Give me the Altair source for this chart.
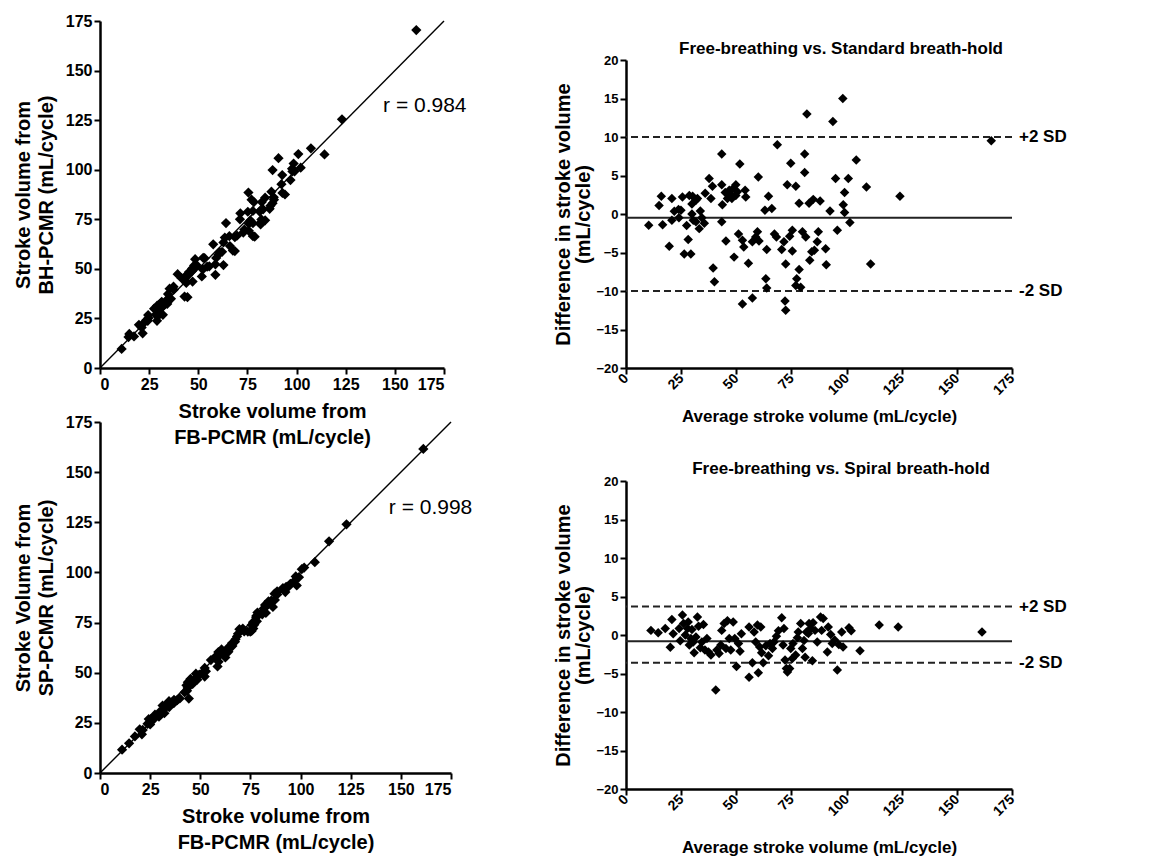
import altair as alt
import pandas as pd

FONT = "Liberation Sans"

# ---------------- Panel A: FB vs BH scatter ----------------
fb_a = [11.0, 14.5, 14.9, 17.3, 21.7, 19.8, 21.2, 21.7, 23.5, 24.3, 24.5, 24.7, 29.0, 28.3, 29.9,
        27.5, 32.0, 29.3, 29.9, 29.1, 30.9, 30.8, 31.4, 32.2, 34.2, 33.5, 34.7, 36.1, 34.6, 35.4,
        37.5, 37.4, 43.0, 44.5, 39.5, 41.5, 43.1, 43.9, 47.1, 43.6, 45.0, 45.3, 46.3, 46.9, 47.9,
        48.6, 51.8, 52.3, 48.4, 54.5, 55.6, 58.7, 52.5, 53.2, 58.7, 62.8, 59.1, 60.3, 60.8, 57.6,
        62.1, 62.8, 66.1, 67.6, 68.6, 63.5, 65.8, 68.6, 69.7, 64.1, 72.9, 73.4, 77.8, 78.7, 75.7,
        71.2, 75.7, 71.4, 76.5, 77.8, 75.2, 81.6, 81.7, 82.1, 77.8, 84.0, 81.2, 77.1, 78.3, 83.0,
        75.5, 82.3, 86.3, 86.7, 84.0, 87.8, 88.5, 88.4, 87.2, 92.8, 94.1, 92.3, 87.8, 92.7, 96.9,
        90.8, 97.9, 97.7, 99.0, 98.5, 102.1, 100.9, 107.3, 114.2, 123.1, 160.9, 47.0, 49.1]
bh_a = [9.6, 15.6, 17.2, 15.9, 17.5, 21.8, 20.4, 22.1, 24.1, 23.8, 26.7, 25.2, 23.8, 26.8, 26.6,
        29.9, 26.8, 30.6, 29.9, 31.4, 30.1, 32.6, 33.4, 31.2, 32.3, 33.9, 34.2, 34.9, 37.3, 40.0,
        39.5, 41.0, 36.0, 35.7, 47.3, 45.3, 44.3, 42.9, 43.6, 46.4, 47.0, 48.4, 48.8, 50.2, 51.7,
        51.0, 46.2, 49.7, 54.9, 51.1, 51.3, 47.0, 55.6, 55.4, 52.3, 51.9, 55.5, 57.3, 58.5, 62.4,
        58.6, 63.3, 61.5, 59.2, 59.0, 65.8, 66.5, 66.0, 66.7, 73.1, 68.3, 69.8, 66.5, 66.2, 69.2,
        75.0, 72.8, 78.0, 74.4, 73.0, 78.8, 73.2, 72.4, 74.9, 79.2, 74.5, 78.9, 84.9, 83.7, 80.0,
        88.5, 83.7, 80.3, 81.8, 85.9, 83.1, 84.9, 86.1, 88.9, 88.3, 87.5, 92.7, 99.8, 97.3, 94.8,
        105.8, 99.1, 100.5, 99.2, 103.1, 101.0, 107.9, 110.8, 107.7, 125.4, 170.4, 49.0, 52.0]

# ---------------- Panel B: Bland-Altman FB vs standard BH ----------------
avg_b = [10.3, 15.0, 16.0, 16.6, 19.6, 20.8, 20.8, 21.9, 23.8, 24.0, 25.6, 24.9, 26.4, 27.5, 28.2,
         28.7, 29.4, 29.9, 29.9, 30.2, 30.5, 31.7, 32.4, 31.7, 33.2, 33.7, 34.4, 35.5, 35.9, 37.7,
         38.5, 39.2, 39.5, 40.1, 43.4, 43.4, 43.7, 43.4, 45.3, 45.0, 46.0, 46.8, 47.5, 48.5, 49.8,
         49.8, 49.0, 51.0, 51.6, 52.8, 53.4, 52.8, 54.0, 54.3, 55.5, 57.3, 57.3, 58.8, 59.6, 60.0,
         60.3, 63.0, 63.8, 63.4, 63.8, 64.6, 66.1, 67.3, 68.2, 68.6, 70.6, 71.6, 72.1, 72.4, 72.4,
         73.1, 74.2, 74.7, 75.4, 75.4, 77.0, 77.4, 77.0, 78.5, 78.5, 79.2, 80.0, 81.0, 81.0, 81.5,
         82.0, 83.0, 83.3, 84.2, 84.9, 85.4, 86.7, 87.2, 88.0, 90.5, 90.8, 92.5, 93.8, 95.0, 95.8,
         98.3, 98.5, 99.1, 99.1, 100.8, 101.5, 104.4, 109.0, 110.9, 124.2, 165.6, 48.0, 50.5]
diff_b = [-1.45, 1.1, 2.3, -1.4, -4.2, 2.0, -0.8, 0.35, 0.6, -0.5, 2.2, 0.5, -5.2, -1.5, -3.3,
          2.4, -5.2, 1.3, 0.0, 2.3, -0.8, 1.8, 2.0, -1.0, -1.9, 0.4, -0.5, -1.2, 2.7, 4.6,
          2.0, 3.6, -7.0, -8.8, 7.8, 3.8, 1.2, -1.0, -3.5, 2.8, 2.0, 3.1, 2.5, 3.3, 3.8,
          2.4, -5.6, -2.6, 6.5, -3.4, -4.3, -11.7, 3.1, 2.2, -6.4, -10.9, -3.6, -3.0, -2.3, 4.8,
          -3.5, 0.5, -4.6, -8.4, -9.6, 2.3, 0.7, -2.6, -3.0, 9.0, -4.6, -3.6, -11.3, -12.5, -6.5,
          3.8, -2.9, 6.6, -2.1, -4.8, 3.6, -8.4, -9.3, -7.2, 1.4, -9.5, -2.3, 7.8, 5.4, -3.0,
          13.0, 1.4, -6.0, -4.9, 1.9, -4.7, -3.6, -2.3, 1.7, -4.5, -6.6, 0.4, 12.0, 4.6, -2.1,
          15.0, 1.2, 2.8, 0.2, 4.6, -1.1, 7.0, 3.5, -6.5, 2.3, 9.5, 2.0, 2.9]
limits_b = [10.0, -10.0]
mean_b = [-0.5]

# ---------------- Panel C: FB vs SP scatter ----------------
fb_c = [11.0, 14.5, 17.4, 20.9, 19.8, 21.3, 23.7, 25.0, 24.3, 25.4, 26.9, 27.5, 27.4, 29.4, 29.6,
        29.6, 31.0, 32.1, 31.8, 31.2, 32.3, 34.5, 34.9, 34.4, 36.8, 36.9, 38.5, 39.8, 44.3, 42.2,
        43.4, 43.7, 43.1, 43.8, 46.2, 45.1, 47.0, 48.5, 47.8, 49.5, 52.2, 51.6, 52.8, 52.2, 58.6,
        55.3, 59.1, 57.9, 59.3, 59.0, 62.5, 61.4, 60.6, 62.7, 64.0, 64.1, 66.0, 65.9, 67.3, 67.6,
        68.3, 68.8, 69.5, 71.9, 71.2, 73.7, 74.9, 75.6, 76.4, 75.6, 76.9, 76.3, 78.2, 77.9, 77.9,
        78.5, 80.9, 81.1, 82.7, 81.6, 82.6, 82.3, 83.3, 86.2, 84.0, 85.4, 87.2, 87.0, 88.3, 88.4,
        92.4, 91.2, 92.8, 94.1, 94.9, 98.1, 97.1, 97.6, 99.2, 100.6, 101.8, 107.1, 114.2, 122.9, 161.2]
sp_c = [11.6, 14.8, 18.2, 19.3, 21.8, 21.5, 24.5, 24.2, 26.9, 26.9, 26.9, 28.3, 29.1, 28.1, 29.2,
        30.3, 30.1, 29.8, 31.6, 33.6, 33.5, 32.9, 34.0, 35.8, 34.8, 36.5, 36.3, 37.2, 37.1, 40.2,
        41.0, 42.4, 43.7, 45.3, 44.4, 46.9, 46.6, 46.5, 49.5, 49.1, 48.1, 50.5, 50.7, 52.4, 53.1,
        56.3, 55.5, 58.3, 58.4, 60.3, 57.6, 59.8, 61.6, 60.4, 60.4, 62.7, 63.3, 64.8, 65.5, 66.7,
        68.1, 69.4, 71.7, 70.6, 72.0, 70.5, 70.5, 70.8, 72.0, 73.8, 73.9, 75.2, 75.6, 77.5, 78.3,
        80.0, 79.1, 80.4, 79.8, 82.0, 82.8, 83.8, 84.1, 82.8, 85.6, 86.0, 86.3, 89.4, 90.5, 89.0,
        90.2, 92.2, 92.8, 93.0, 94.3, 93.5, 95.9, 98.0, 97.6, 101.6, 102.4, 105.1, 115.5, 124.0, 161.6]

# ---------------- Panel D: Bland-Altman FB vs spiral BH ----------------
avg_d = [11.3, 14.6, 17.8, 20.1, 20.8, 21.4, 24.1, 24.6, 25.6, 26.1, 26.9, 27.9, 28.2, 28.7, 29.4,
         29.9, 30.5, 30.9, 31.7, 32.4, 32.9, 33.7, 34.4, 35.1, 35.8, 36.7, 37.4, 38.5, 40.7, 41.2,
         42.2, 43.0, 43.4, 44.5, 45.3, 46.0, 46.8, 47.5, 48.6, 49.3, 50.1, 51.0, 51.7, 52.3, 55.8,
         55.8, 57.3, 58.1, 58.8, 59.6, 60.0, 60.6, 61.1, 61.5, 62.2, 63.4, 64.6, 65.3, 66.4, 67.1,
         68.2, 69.1, 70.6, 71.2, 71.6, 72.1, 72.7, 73.2, 74.2, 74.7, 75.4, 75.7, 76.9, 77.7, 78.1,
         79.2, 80.0, 80.7, 81.2, 81.8, 82.7, 83.0, 83.7, 84.5, 84.8, 85.7, 86.7, 88.2, 89.4, 88.7,
         91.3, 91.7, 92.8, 93.5, 94.6, 95.8, 96.5, 97.8, 98.4, 101.1, 102.1, 106.1, 114.8, 123.4, 161.4]
diff_d = [0.6, 0.3, 0.85, -1.6, 2.0, 0.15, 0.85, -0.75, 2.6, 1.5, 0.0, 0.85, 1.7, -1.3, -0.45,
          0.7, -0.9, -2.3, -0.25, 2.35, 1.15, -1.65, -0.9, 1.35, -1.95, -0.45, -2.2, -2.6, -7.15, -1.95,
          -2.4, -1.3, 0.6, 1.5, -1.75, 1.85, -0.45, -1.95, 1.7, -0.45, -4.1, -1.1, -2.1, 0.15, -5.5,
          1.05, -3.6, 0.4, -0.9, 1.3, -4.9, -1.55, 1.05, -2.3, -3.6, -1.4, -2.7, -1.1, -1.75, -0.9,
          -0.15, 0.55, 2.25, -1.3, 0.85, -3.25, -4.35, -4.8, -4.35, -1.75, -3.05, -1.1, -2.6, -0.35, 0.4,
          1.5, -1.75, -0.7, -2.9, 0.4, 0.2, 1.5, 0.85, -3.35, 1.6, 0.6, -0.9, 2.35, 2.15, 0.6,
          -2.2, 1.05, 0.05, -1.1, -0.65, -4.55, -1.25, 0.4, -1.55, 0.95, 0.55, -2.05, 1.3, 1.05, 0.4]
limits_d = [3.7, -3.6]
mean_d = [-0.8]

ticks_sv = [0, 25, 50, 75, 100, 125, 150, 175]
ticks_diff = [-20, -15, -10, -5, 0, 5, 10, 15, 20]
identity = [0, 175]
sd_labels = ["+2 SD", "-2 SD"]
r_pos = [144, 132]


def scatter_panel(xv, yv, w, h, xtitle, ytitle, rlabel):
    xs = alt.Scale(domain=[0, 175], nice=False, zero=False)
    ys = alt.Scale(domain=[0, 175], nice=False, zero=False)
    X = alt.X("x:Q", scale=xs, axis=alt.Axis(values=ticks_sv, title=xtitle, labelFontSize=16,
                                             labelFontWeight=700, titleFontSize=20,
                                             titlePadding=9, titleLineHeight=26))
    Y = alt.Y("y:Q", scale=ys, axis=alt.Axis(values=ticks_sv, title=ytitle, labelFontSize=16,
                                             labelFontWeight=700, titleFontSize=20,
                                             titlePadding=9, titleLineHeight=23))
    ident = alt.Chart(pd.DataFrame({"x": identity, "y": identity})).mark_line(
        color="black", strokeWidth=1.4).encode(x=X, y=Y)
    dots = alt.Chart(pd.DataFrame({"x": xv, "y": yv})).mark_point(
        shape="diamond", filled=True, color="black", opacity=1, size=105).encode(x=X, y=Y)
    rt = alt.Chart(pd.DataFrame({"x": [r_pos[0]], "y": [r_pos[1]], "t": [rlabel]})).mark_text(
        align="left", baseline="middle", font=FONT, fontSize=21, color="black").encode(
        x=X, y=Y, text="t:N")
    return alt.layer(ident, dots, rt).properties(width=w, height=h)


def ba_panel(av, dv, h, top, title, limits, mean, title_y, xpad):
    xs = alt.Scale(domain=[0, 175], nice=False, zero=False)
    ys = alt.Scale(domain=[-20, 20], range=[h, top], nice=False, zero=False)
    X = alt.X("x:Q", scale=xs, axis=alt.Axis(values=ticks_sv, labelAngle=315, labelAlign="right",
                                             labelBaseline="middle", labelFontSize=14,
                                             labelFontWeight=700,
                                             title="Average stroke volume (mL/cycle)",
                                             titleFontSize=17, titlePadding=xpad))
    Y = alt.Y("y:Q", scale=ys, axis=alt.Axis(values=ticks_diff, labelFontSize=13,
                                             labelFontWeight=700,
                                             title=["Difference in stroke volume", "(mL/cycle)"],
                                             titleFontSize=20, titlePadding=2, titleLineHeight=20))
    dots = alt.Chart(pd.DataFrame({"x": av, "y": dv})).mark_point(
        shape="diamond", filled=True, color="black", opacity=1, size=90).encode(x=X, y=Y)
    lim = alt.Chart(pd.DataFrame({"y": limits})).mark_rule(
        color="#222222", strokeWidth=2, strokeDash=[7, 4]).encode(y=Y)
    mn = alt.Chart(pd.DataFrame({"y": mean})).mark_rule(
        color="#222222", strokeWidth=2).encode(y=Y)
    lab = alt.Chart(pd.DataFrame({"y": limits, "t": sd_labels})).mark_text(
        align="left", baseline="middle", font=FONT, fontWeight="bold", fontSize=17,
        color="black").encode(x=alt.value(393), y=Y, text="t:N")
    ttl = alt.Chart(pd.DataFrame({"t": [title]})).mark_text(
        align="center", baseline="middle", font=FONT, fontWeight="bold", fontSize=17,
        color="black").encode(x=alt.value(215), y=alt.value(title_y), text="t:N")
    return alt.layer(lim, mn, dots, lab, ttl).properties(width=386, height=h)


pA = scatter_panel(fb_a, bh_a, 344, 347, ["Stroke volume from", "FB-PCMR (mL/cycle)"],
                   ["Stroke volume from", "BH-PCMR (mL/cycle)"], "r = 0.984")
pB = ba_panel(avg_b, diff_b, 347, 39, "Free-breathing vs. Standard breath-hold",
              limits_b, mean_b, 28, 11)
pC = scatter_panel(fb_c, sp_c, 351, 351, ["Stroke volume from", "FB-PCMR (mL/cycle)"],
                   ["Stroke Volume from", "SP-PCMR (mL/cycle)"], "r = 0.998")
pD = ba_panel(avg_d, diff_d, 367, 59, "Free-breathing vs. Spiral breath-hold",
              limits_d, mean_d, 47, 21)

chart = alt.concat(pA, pB, pC, pD, columns=2, bounds="flush", align="each",
                   spacing={"row": 54, "column": 175}).properties(
    padding={"left": 5, "top": 5, "right": 5, "bottom": 5}
).configure(
    style={"guide-label": {"fontWeight": 700, "font": FONT}}
).configure_view(stroke=None).configure_axis(
    grid=False, domainColor="black", domainWidth=2.5, tickColor="black", tickWidth=2,
    tickSize=6, labelColor="black", titleColor="black", labelFont=FONT, titleFont=FONT,
    labelFontWeight=700, titleFontWeight="bold", labelPadding=2
)

chart.save("out.html", embed_options={"renderer": "svg", "actions": False})
